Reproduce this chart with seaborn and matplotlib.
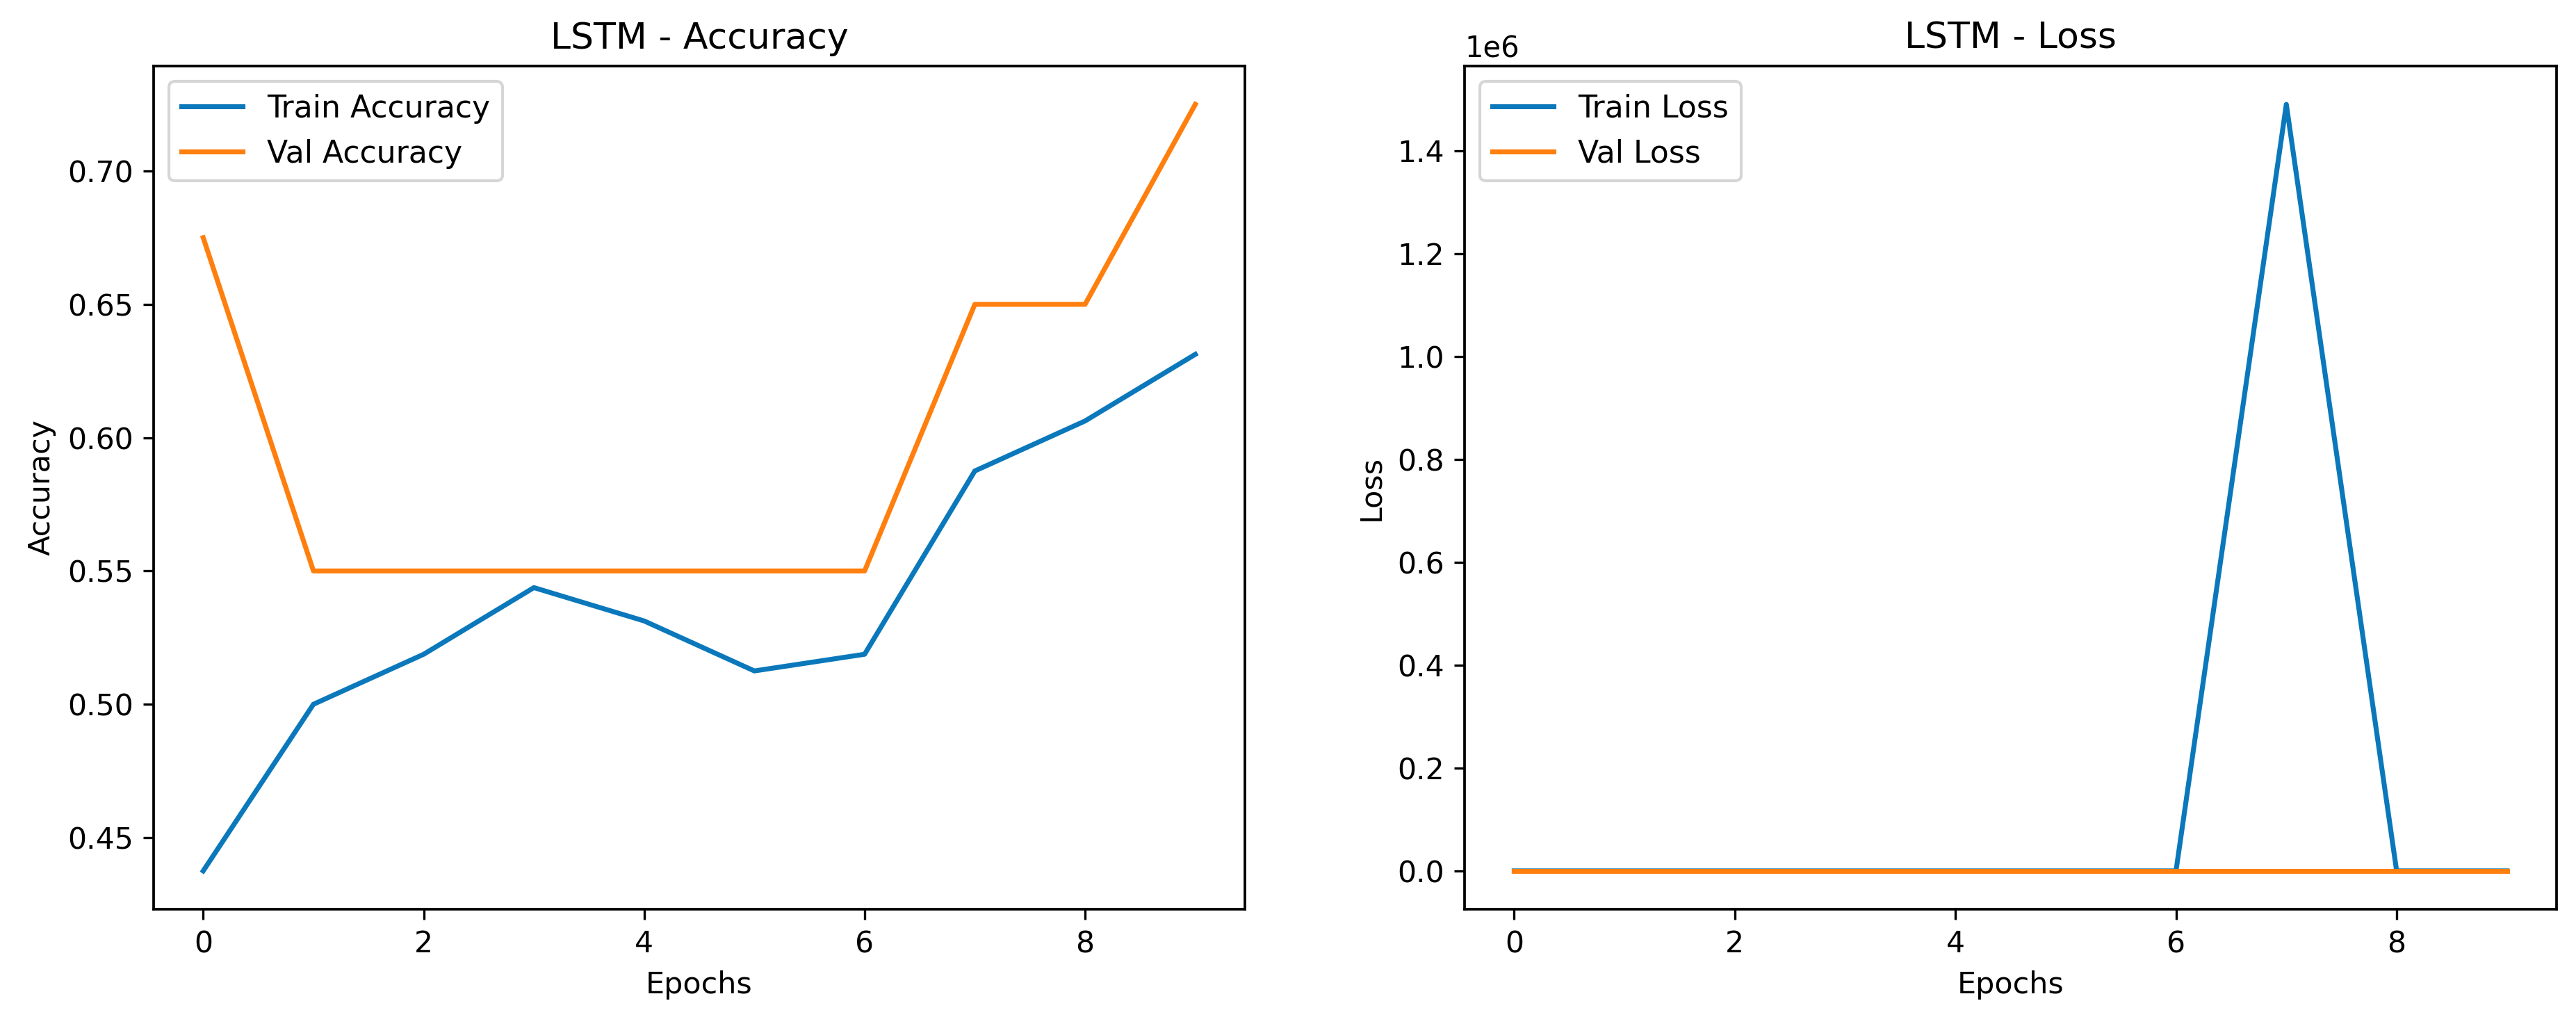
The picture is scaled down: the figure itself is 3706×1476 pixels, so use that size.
import matplotlib
matplotlib.use("Agg")
import matplotlib.pyplot as plt
import seaborn as sns
import numpy as np

# ---- data ----
epochs = [0, 1, 2, 3, 4, 5, 6, 7, 8, 9]
train_acc = [0.4375, 0.5000, 0.51875, 0.54375, 0.53125, 0.5125, 0.51875, 0.5875, 0.60625, 0.63125]
val_acc = [0.675, 0.55, 0.55, 0.55, 0.55, 0.55, 0.55, 0.65, 0.65, 0.725]
train_loss = [0.69, 0.69, 0.69, 0.69, 0.69, 0.69, 0.69, 1.49e6, 0.69, 0.69]
val_loss = [0.69, 0.69, 0.69, 0.69, 0.69, 0.69, 0.69, 0.69, 0.69, 0.69]

titles = ["LSTM - Accuracy", "LSTM - Loss"]
xlabel = "Epochs"
ylabels = ["Accuracy", "Loss"]
acc_labels = ["Train Accuracy", "Val Accuracy"]
loss_labels = ["Train Loss", "Val Loss"]

blue = "#0a78bb"
orange = "#ff7f0e"

plt.rcParams["font.family"] = ["DejaVu Sans"]
plt.rcParams["font.size"] = 10

fig = plt.figure(figsize=(3706 / 300, 1476 / 300), dpi=300)
ax1 = fig.add_axes([0.05963, 0.11382, 0.42364, 0.82182])
ax2 = fig.add_axes([0.56854, 0.11382, 0.42391, 0.82182])

sns.lineplot(x=epochs, y=train_acc, ax=ax1, color=blue, label=acc_labels[0], linewidth=1.7)
sns.lineplot(x=epochs, y=val_acc, ax=ax1, color=orange, label=acc_labels[1], linewidth=1.7)
sns.lineplot(x=epochs, y=train_loss, ax=ax2, color=blue, label=loss_labels[0], linewidth=1.7)
sns.lineplot(x=epochs, y=val_loss, ax=ax2, color=orange, label=loss_labels[1], linewidth=1.7)

for ax, t, yl in zip([ax1, ax2], titles, ylabels):
    ax.set_title(t, fontsize=12.5)
    ax.set_xlabel(xlabel, fontsize=10.3)
    ax.set_ylabel(yl, fontsize=10.3)
    ax.set_xticks([0, 2, 4, 6, 8])
    ax.tick_params(labelsize=10.2)
    ax.legend(loc="upper left", fontsize=10.6)
    for s in ax.spines.values():
        s.set_color("black")
        s.set_linewidth(0.9)

ax1.set_yticks([0.45, 0.50, 0.55, 0.60, 0.65, 0.70])
ax1.set_yticklabels(["0.45", "0.50", "0.55", "0.60", "0.65", "0.70"])

fig.savefig("out.png", dpi=300, facecolor="white")
